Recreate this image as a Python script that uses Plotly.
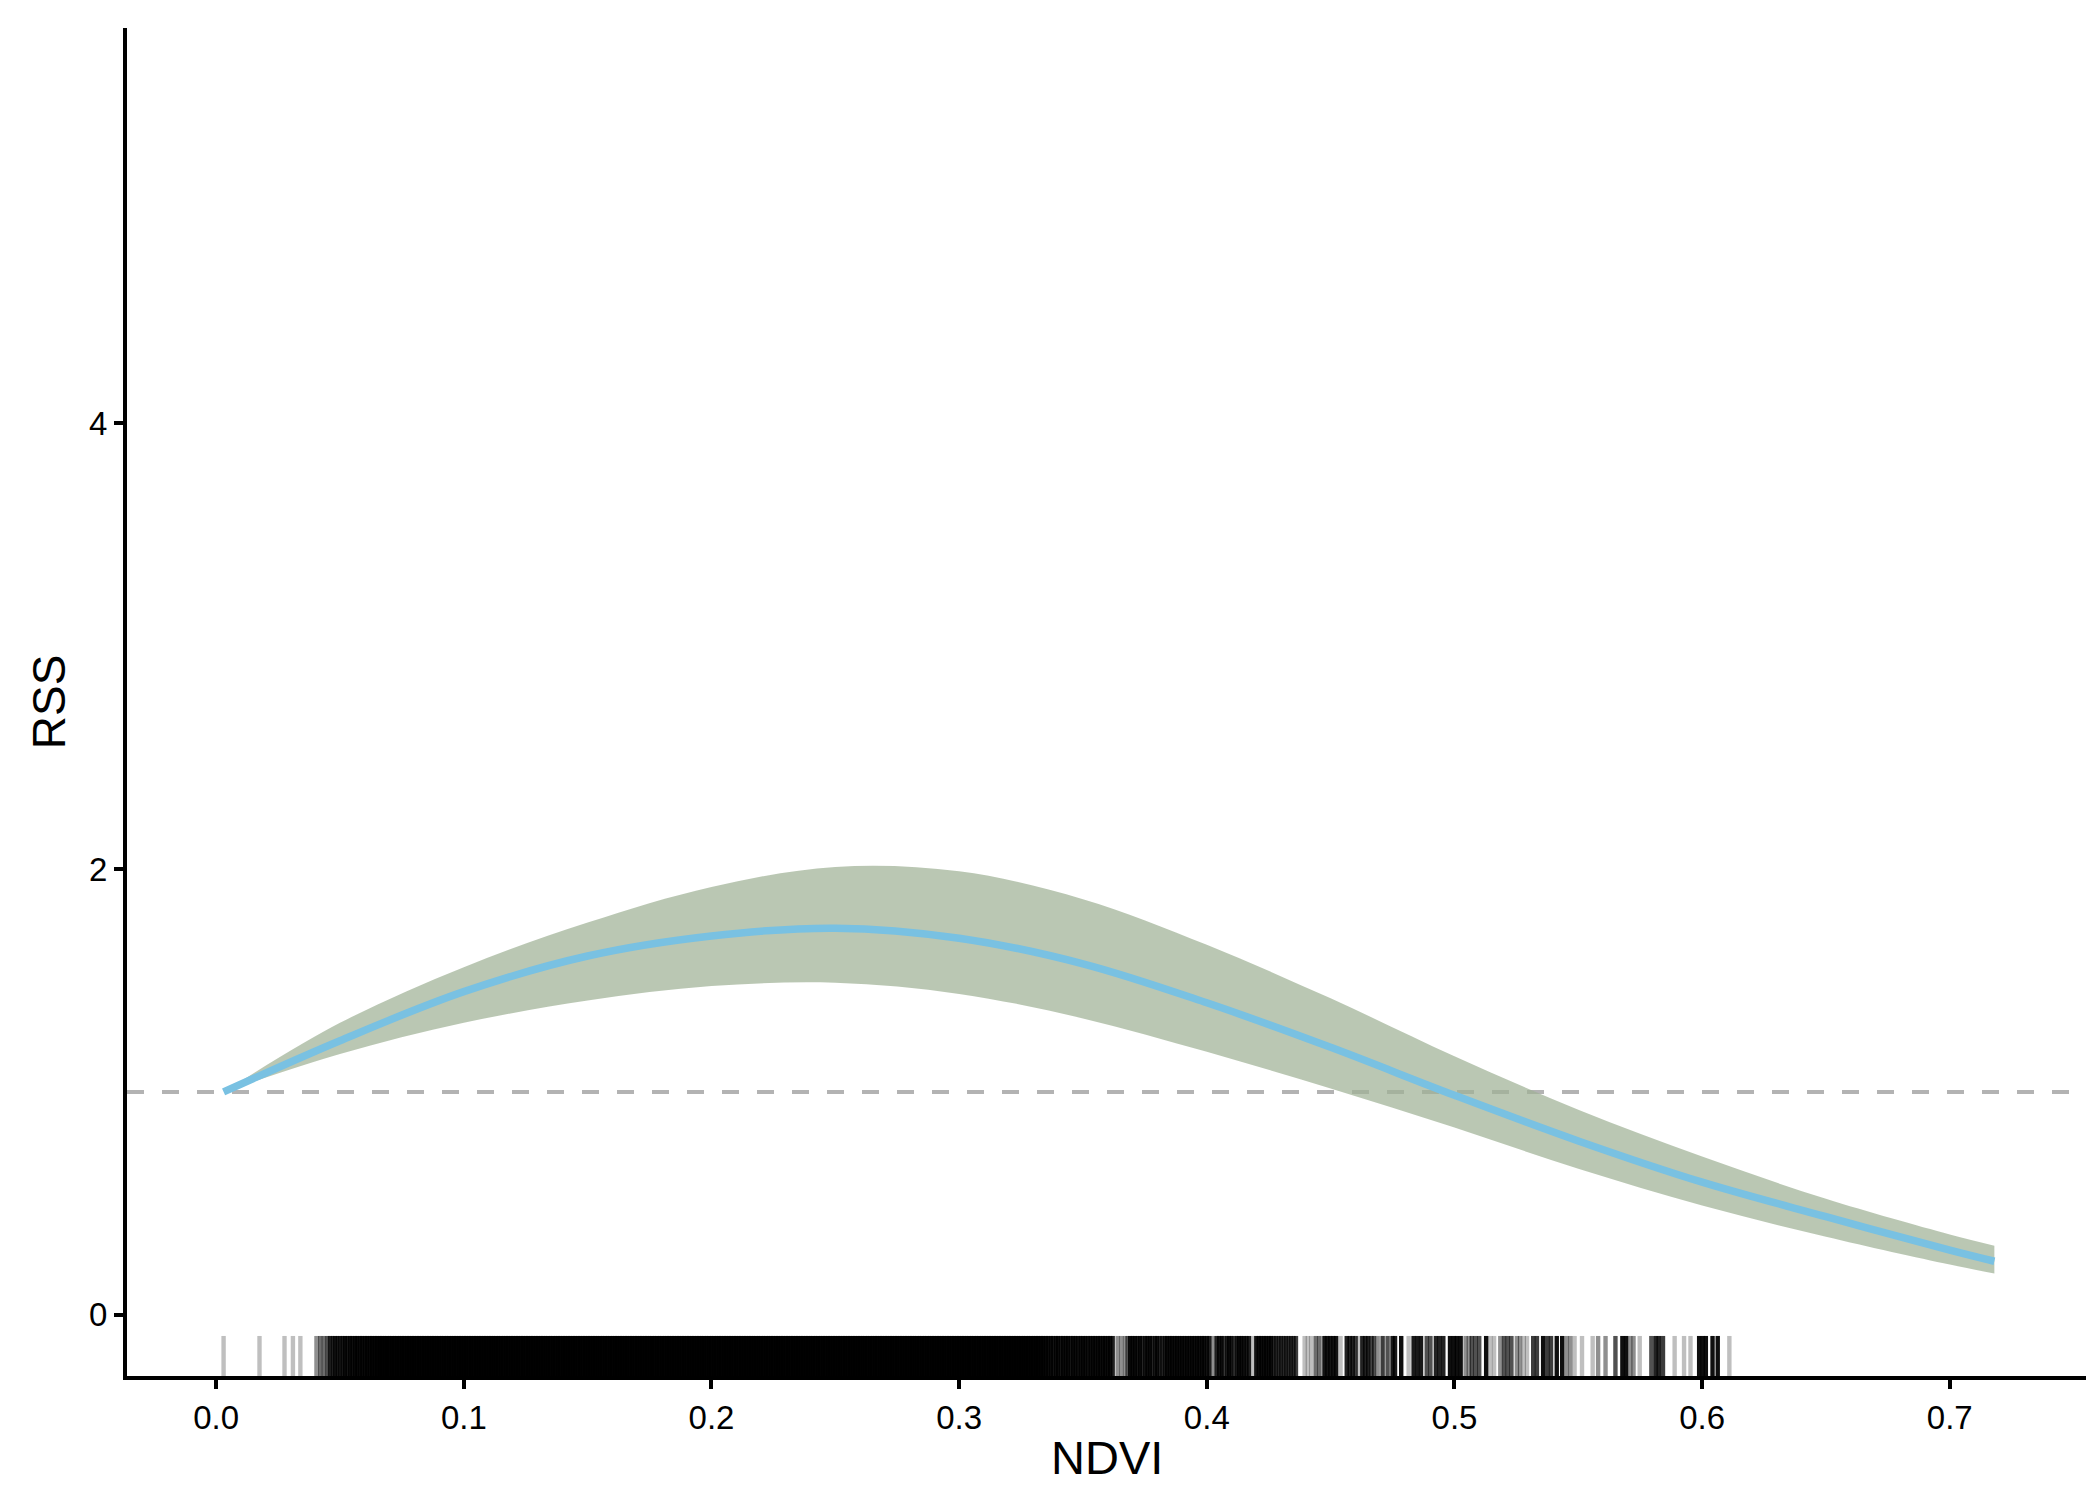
import plotly.graph_objects as go

# ---------------- data ----------------
ndvi = [0.003, 0.05, 0.10, 0.15, 0.20, 0.25, 0.30, 0.35, 0.40, 0.45,
        0.50, 0.55, 0.60, 0.65, 0.70, 0.718]
rss = [1.00, 1.23, 1.45, 1.61, 1.70, 1.735, 1.69, 1.575, 1.40, 1.20,
       0.985, 0.78, 0.595, 0.44, 0.29, 0.24]
rss_upper = [1.00, 1.31, 1.56, 1.76, 1.92, 2.01, 1.99, 1.865, 1.66, 1.42,
             1.16, 0.92, 0.71, 0.52, 0.36, 0.31]
rss_lower = [1.00, 1.17, 1.31, 1.41, 1.475, 1.49, 1.44, 1.33, 1.18, 1.015,
             0.84, 0.655, 0.49, 0.35, 0.225, 0.185]
ref_rss = 1.0

x_ticks = [0.0, 0.1, 0.2, 0.3, 0.4, 0.5, 0.6, 0.7]
x_ticktext = ["0.0", "0.1", "0.2", "0.3", "0.4", "0.5", "0.6", "0.7"]
y_ticks = [0, 2, 4]
y_ticktext = ["0", "2", "4"]

# rug: (NDVI value, number of overlapping observations)
rug_obs = [
    (0.003, 1), (0.0175, 1), (0.0276, 1), (0.031, 1), (0.034, 1), (0.0405, 2), (0.042, 3), (0.0435, 3), (0.045, 4), (0.046, 5),
    (0.047, 6), (0.048, 7), (0.049, 7), (0.050, 6), (0.051, 7), (0.052, 9), (0.053, 7), (0.054, 9), (0.055, 8), (0.056, 10),
    (0.057, 10), (0.058, 9), (0.059, 10), (0.060, 10), (0.061, 11), (0.062, 11), (0.063, 12), (0.064, 12), (0.065, 14), (0.066, 16),
    (0.067, 16), (0.068, 16), (0.069, 16), (0.070, 16), (0.071, 16), (0.072, 16), (0.073, 16), (0.074, 16), (0.075, 16), (0.076, 16),
    (0.077, 16), (0.078, 16), (0.079, 16), (0.080, 16), (0.081, 16), (0.082, 16), (0.083, 16), (0.084, 16), (0.085, 16), (0.086, 16),
    (0.087, 16), (0.088, 16), (0.089, 16), (0.090, 16), (0.091, 16), (0.092, 16), (0.093, 16), (0.094, 16), (0.095, 16), (0.096, 16),
    (0.097, 16), (0.098, 16), (0.099, 16), (0.100, 16), (0.101, 16), (0.102, 16), (0.103, 16), (0.104, 16), (0.105, 16), (0.106, 16),
    (0.107, 16), (0.108, 16), (0.109, 16), (0.110, 16), (0.111, 16), (0.112, 16), (0.113, 16), (0.114, 16), (0.115, 16), (0.116, 16),
    (0.117, 16), (0.118, 16), (0.119, 16), (0.120, 16), (0.121, 16), (0.122, 16), (0.123, 16), (0.124, 16), (0.125, 16), (0.126, 16),
    (0.127, 16), (0.128, 16), (0.129, 16), (0.130, 16), (0.131, 16), (0.132, 16), (0.133, 16), (0.134, 16), (0.135, 16), (0.136, 16),
    (0.137, 16), (0.138, 16), (0.139, 16), (0.140, 16), (0.141, 16), (0.142, 16), (0.143, 16), (0.144, 16), (0.145, 16), (0.146, 16),
    (0.147, 16), (0.148, 16), (0.149, 16), (0.150, 16), (0.151, 16), (0.152, 16), (0.153, 16), (0.154, 16), (0.155, 16), (0.156, 16),
    (0.157, 16), (0.158, 16), (0.159, 16), (0.160, 16), (0.161, 16), (0.162, 16), (0.163, 16), (0.164, 16), (0.165, 16), (0.166, 16),
    (0.167, 16), (0.168, 16), (0.169, 16), (0.170, 16), (0.171, 16), (0.172, 16), (0.173, 16), (0.174, 16), (0.175, 16), (0.176, 16),
    (0.177, 16), (0.178, 16), (0.179, 16), (0.180, 16), (0.181, 16), (0.182, 16), (0.183, 16), (0.184, 16), (0.185, 16), (0.186, 16),
    (0.187, 16), (0.188, 16), (0.189, 16), (0.190, 16), (0.191, 16), (0.192, 16), (0.193, 16), (0.194, 16), (0.195, 16), (0.196, 16),
    (0.197, 16), (0.198, 16), (0.199, 16), (0.200, 16), (0.201, 16), (0.202, 16), (0.203, 16), (0.204, 16), (0.205, 16), (0.206, 16),
    (0.207, 16), (0.208, 16), (0.209, 16), (0.210, 16), (0.211, 16), (0.212, 16), (0.213, 16), (0.214, 16), (0.215, 16), (0.216, 16),
    (0.217, 16), (0.218, 16), (0.219, 16), (0.220, 16), (0.221, 16), (0.222, 16), (0.223, 16), (0.224, 16), (0.225, 16), (0.226, 16),
    (0.227, 16), (0.228, 16), (0.229, 16), (0.230, 16), (0.231, 16), (0.232, 16), (0.233, 16), (0.234, 16), (0.235, 16), (0.236, 16),
    (0.237, 16), (0.238, 16), (0.239, 16), (0.240, 16), (0.241, 16), (0.242, 16), (0.243, 16), (0.244, 16), (0.245, 16), (0.246, 16),
    (0.247, 16), (0.248, 16), (0.249, 16), (0.250, 16), (0.251, 16), (0.252, 16), (0.253, 16), (0.254, 16), (0.255, 16), (0.256, 16),
    (0.257, 16), (0.258, 16), (0.259, 16), (0.260, 16), (0.261, 16), (0.262, 16), (0.263, 16), (0.264, 16), (0.265, 16), (0.266, 16),
    (0.267, 16), (0.268, 16), (0.269, 16), (0.270, 16), (0.271, 16), (0.272, 16), (0.273, 16), (0.274, 16), (0.275, 16), (0.276, 16),
    (0.277, 16), (0.278, 16), (0.279, 16), (0.280, 16), (0.281, 16), (0.282, 16), (0.283, 16), (0.284, 16), (0.285, 16), (0.286, 16),
    (0.287, 16), (0.288, 16), (0.289, 16), (0.290, 16), (0.291, 16), (0.292, 16), (0.293, 16), (0.294, 16), (0.295, 16), (0.296, 16),
    (0.297, 16), (0.298, 16), (0.299, 16), (0.300, 16), (0.301, 16), (0.302, 16), (0.303, 16), (0.304, 16), (0.305, 16), (0.306, 16),
    (0.307, 16), (0.308, 16), (0.309, 16), (0.310, 16), (0.311, 16), (0.312, 16), (0.313, 16), (0.314, 16), (0.315, 16), (0.316, 16),
    (0.317, 16), (0.318, 16), (0.319, 16), (0.320, 16), (0.321, 16), (0.322, 16), (0.323, 16), (0.324, 16), (0.325, 16), (0.326, 16),
    (0.327, 16), (0.328, 16), (0.329, 16), (0.330, 16), (0.331, 16), (0.332, 16), (0.333, 14), (0.334, 12), (0.335, 10), (0.336, 9),
    (0.337, 9), (0.338, 7), (0.339, 9), (0.340, 9), (0.341, 7), (0.342, 9), (0.343, 9), (0.344, 9), (0.345, 7), (0.346, 9),
    (0.347, 9), (0.348, 7), (0.349, 9), (0.350, 9), (0.351, 9), (0.352, 7), (0.353, 9), (0.354, 9), (0.355, 9), (0.356, 9),
    (0.357, 9), (0.358, 9), (0.359, 9), (0.360, 9), (0.361, 9), (0.362, 7), (0.364, 2), (0.3655, 2), (0.367, 2), (0.368, 3),
    (0.369, 9), (0.370, 9), (0.371, 9), (0.372, 7), (0.373, 9), (0.374, 5), (0.375, 7), (0.376, 9), (0.377, 9), (0.378, 5),
    (0.379, 7), (0.380, 9), (0.381, 5), (0.382, 5), (0.383, 7), (0.384, 9), (0.385, 9), (0.386, 9), (0.387, 9), (0.388, 9),
    (0.389, 9), (0.390, 9), (0.391, 9), (0.392, 9), (0.393, 9), (0.394, 9), (0.395, 9), (0.396, 9), (0.397, 9), (0.398, 9),
    (0.399, 9), (0.400, 7), (0.401, 7), (0.4025, 2), (0.404, 7), (0.405, 7), (0.406, 9), (0.407, 3), (0.408, 7), (0.409, 9),
    (0.410, 7), (0.411, 3), (0.412, 7), (0.413, 9), (0.414, 9), (0.415, 7), (0.416, 7), (0.417, 7), (0.4185, 1), (0.420, 9),
    (0.421, 9), (0.422, 9), (0.423, 9), (0.424, 9), (0.425, 9), (0.426, 9), (0.427, 5), (0.428, 5), (0.429, 5), (0.430, 5),
    (0.431, 5), (0.432, 5), (0.433, 5), (0.434, 5), (0.435, 5), (0.436, 5), (0.4395, 1), (0.4408, 1), (0.4422, 1), (0.444, 3),
    (0.4455, 3), (0.4475, 9), (0.4487, 9), (0.4499, 9), (0.4511, 9), (0.4522, 9), (0.454, 1), (0.4565, 7), (0.4577, 7), (0.4589, 7),
    (0.4601, 5), (0.4612, 1), (0.4628, 7), (0.464, 7), (0.4652, 7),
    (0.4665, 4), (0.4675, 4), (0.469, 2), (0.471, 5), (0.473, 4), (0.475, 8), (0.476, 8), (0.4785, 10), (0.4815, 1), (0.4835, 8),
    (0.485, 8), (0.4865, 8), (0.4888, 4), (0.4903, 4), (0.4925, 7), (0.494, 7), (0.4955, 7), (0.4982, 10), (0.4997, 10), (0.501, 10),
    (0.5025, 10), (0.5045, 2), (0.5058, 2), (0.507, 4), (0.5085, 4), (0.51, 4), (0.5128, 10), (0.5145, 1), (0.516, 1), (0.5185, 2),
    (0.52, 4), (0.5215, 4), (0.523, 4), (0.5252, 2), (0.5265, 2), (0.528, 1), (0.5293, 1), (0.5318, 5), (0.5333, 5), (0.5358, 10),
    (0.5375, 5), (0.539, 5), (0.5413, 10), (0.5435, 10), (0.5453, 2), (0.5468, 2), (0.5485, 1), (0.5515, 1), (0.5558, 1), (0.558, 2),
    (0.561, 2), (0.565, 4), (0.5678, 10), (0.5693, 10), (0.571, 2), (0.5723, 2), (0.5748, 1), (0.5795, 4), (0.5812, 7), (0.5825, 7),
    (0.5842, 5), (0.5889, 1), (0.5927, 1), (0.5953, 1), (0.5988, 10), (0.6002, 10), (0.6015, 10), (0.6042, 10), (0.6063, 10), (0.611, 1),
]
rug_ndvi = [v for v, _ in rug_obs]
rug_n = [n for _, n in rug_obs]

# ---------------- styling ----------------
FONT = "Liberation Sans, Arial, Helvetica, sans-serif"
LINE_COL = "#79C1E2"
RIBBON_COL = "rgba(159,177,149,0.72)"
RUG_ALPHA = 0.25
RUG_LEN = 0.0297      # fraction of panel height
RUG_LINE_PX = 4.4     # rug tick thickness in px

fig = go.Figure()

# reference line (below everything)
fig.add_shape(type="line", xref="paper", x0=0, x1=1, yref="y", y0=ref_rss, y1=ref_rss,
              line=dict(color="#b3b3b3", width=4, dash="17px,18px"), layer="below")

# confidence ribbon
fig.add_trace(go.Scatter(x=ndvi, y=rss_upper, mode="lines",
                         line=dict(width=0, shape="spline", color=RIBBON_COL),
                         hoverinfo="skip", showlegend=False))
fig.add_trace(go.Scatter(x=ndvi, y=rss_lower, mode="lines",
                         line=dict(width=0, shape="spline", color=RIBBON_COL),
                         fill="tonexty", fillcolor=RIBBON_COL,
                         hoverinfo="skip", showlegend=False))
# fitted curve
fig.add_trace(go.Scatter(x=ndvi, y=rss, mode="lines",
                         line=dict(width=7.5, shape="spline", color=LINE_COL),
                         hoverinfo="skip", showlegend=False))

# rug: one line trace per multiplicity level so that opacity reflects overlap
levels = sorted(set(rug_n))
for lev in levels:
    xs, ys = [], []
    for v, n in zip(rug_ndvi, rug_n):
        if n == lev:
            xs += [v, v, None]
            ys += [0, RUG_LEN, None]
    alpha = 1 - (1 - RUG_ALPHA) ** lev
    fig.add_trace(go.Scatter(x=xs, y=ys, yaxis="y2", mode="lines",
                             line=dict(color="rgba(0,0,0,%.3f)" % alpha, width=RUG_LINE_PX),
                             hoverinfo="skip", showlegend=False))

axis_common = dict(showline=True, linecolor="black", linewidth=4,
                   ticks="outside", ticklen=9, tickwidth=4, tickcolor="black",
                   showgrid=False, zeroline=False,
                   tickfont=dict(family=FONT, size=33, color="black"))

fig.update_layout(
    width=2100, height=1500,
    margin=dict(l=119, r=22, t=20, b=132),
    paper_bgcolor="white", plot_bgcolor="white",
    xaxis=dict(range=[-0.036, 0.755], tickvals=x_ticks, ticktext=x_ticktext, **axis_common),
    yaxis=dict(range=[-0.275, 5.775], tickvals=y_ticks, ticktext=y_ticktext, **axis_common),
    yaxis2=dict(overlaying="y", range=[0, 1], visible=False, fixedrange=True),
    annotations=[
        dict(text="NDVI", xref="paper", yref="paper", x=0.5, y=-0.0608,
             xanchor="center", yanchor="middle", showarrow=False,
             font=dict(family=FONT, size=47, color="black")),
        dict(text="RSS", xref="paper", yref="paper", x=-0.0397, y=0.5,
             xanchor="center", yanchor="middle", showarrow=False, textangle=-90,
             font=dict(family=FONT, size=46, color="black")),
    ],
)

fig.write_html("out.html")
